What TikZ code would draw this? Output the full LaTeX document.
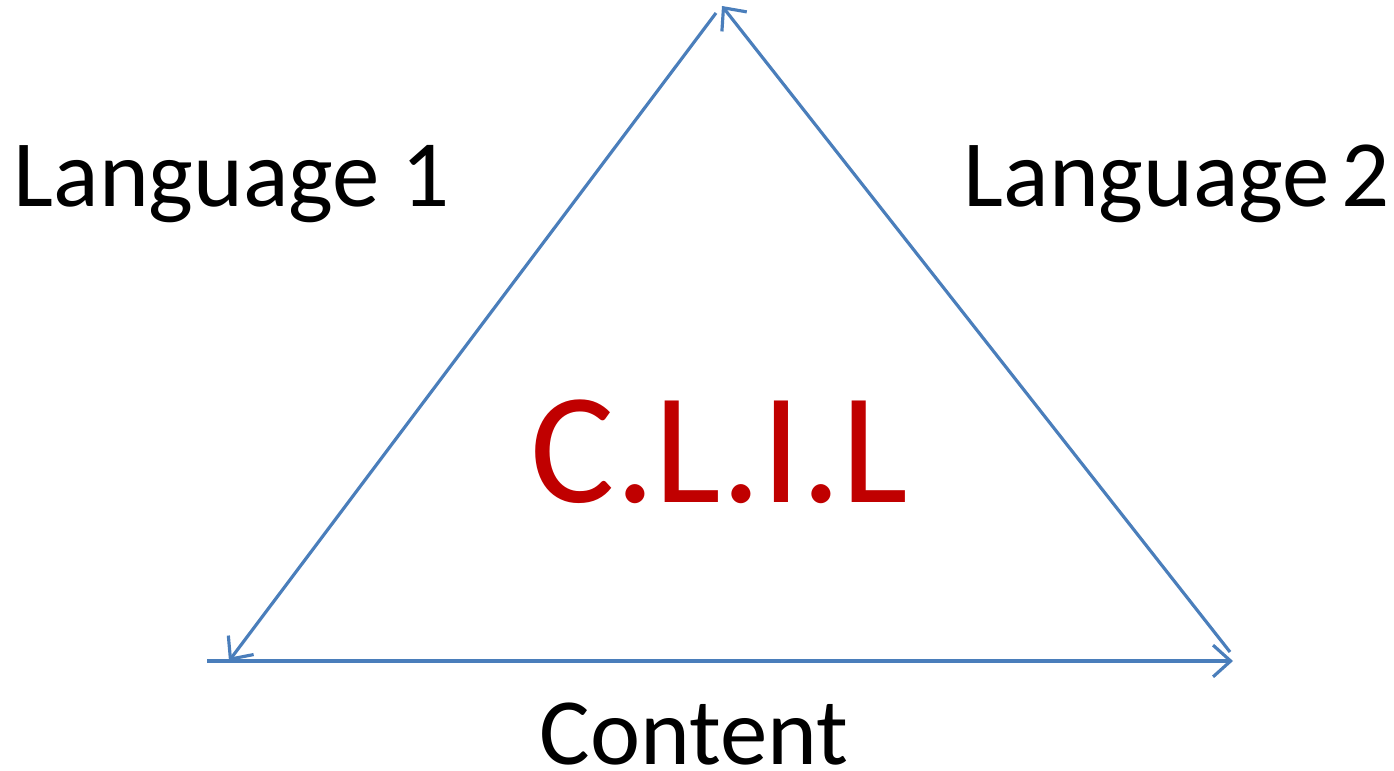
\documentclass[tikz,border=0pt]{standalone}
\usepackage{fontspec}
\setmainfont{Carlito}
\usetikzlibrary{arrows.meta}
\definecolor{lineblue}{RGB}{74,126,187}
\definecolor{clilred}{RGB}{192,0,0}
\begin{document}
\begin{tikzpicture}[x=0.01cm,y=-0.01cm,
  conn/.style={draw=lineblue,line width=0.9pt,-{Straight Barb[length=5pt,width=9pt,line width=0.9pt]}},
  lbl/.style={anchor=base west,inner sep=0pt,font=\fontsize{27}{31}\selectfont},
  big/.style={anchor=base west,inner sep=0pt,text=clilred,font=\fontsize{45}{50}\selectfont}]
\useasboundingbox (0,0) rectangle (1394,771);
\coordinate (top) at (722,6);
\coordinate (topstart) at (716,13);
\coordinate (rstart) at (1230,652);
\coordinate (bl) at (229,661);
\coordinate (bstart) at (207,661);
\coordinate (br) at (1233,661);
\draw[conn] (rstart) -- (top);
\draw[conn] (topstart) -- (bl);
\draw[conn] (bstart) -- (br);
\node[lbl] (l1) at (13,207) {Language 1};
\node[lbl] (l2) at (963,207) {Language\hspace{0.12em}2};
\node[big] (clil) at (530,503) {C.L.I.L};
\node[lbl] (content) at (539,765) {Content};
\end{tikzpicture}
\end{document}
